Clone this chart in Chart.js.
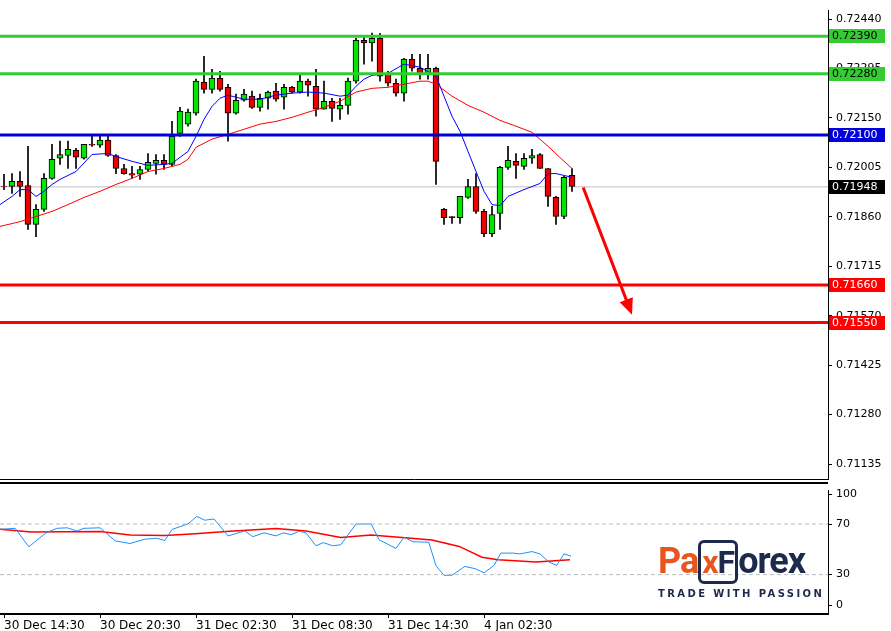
<!DOCTYPE html>
<html><head><meta charset="utf-8">
<script src="https://cdn.jsdelivr.net/npm/chart.js@4"></script>
<style>
body{margin:0;background:#fff;width:891px;height:631px;overflow:hidden;position:relative;font-family:"DejaVu Sans",sans-serif}
canvas{position:absolute;left:0}
#c1{top:0;z-index:2}
#c2{top:480px;z-index:1}
#sep{position:absolute;left:0;top:482px;width:828px;height:0;border-top:2px solid #000;z-index:3}
#logo{position:absolute;left:658px;top:541px;width:170px;white-space:nowrap;z-index:3}
#logo .m{font-family:"Roboto","DejaVu Sans",sans-serif;font-weight:700;font-size:36px;letter-spacing:-1px;line-height:40px}
#logo .p{color:#e8561f}
#logo .x{color:#e8561f;border:3px solid #1d2a4d;border-radius:6px;padding:0 1px;font-size:32px}
#logo .f{color:#1d2a4d}
#logo .t{font-family:"DejaVu Sans",sans-serif;font-weight:700;font-size:10px;letter-spacing:2.4px;color:#1d2a4d;margin-top:6px}
</style></head><body>
<canvas id="c1" width="891" height="490"></canvas>
<canvas id="c2" width="891" height="151"></canvas>
<div id="sep"></div>
<div id="logo"><div class="m"><span class="p">Pa</span><span class="x">x<span class="f">F</span></span><span class="f">orex</span></div><div class="t">TRADE WITH PASSION</div></div>
<script>
const timeLabels = ["30 Dec 14:30","30 Dec 20:30","31 Dec 02:30","31 Dec 08:30","31 Dec 14:30","4 Jan 02:30"];
const timeLabelIdx = [0,12,24,36,48,60];
const priceTicks = [0.72440,0.72295,0.72150,0.72005,0.71860,0.71715,0.71570,0.71425,0.71280,0.71135];
const openP  = [.71950,.71949,.71964,.71952,.71838,.71882,.71973,.72032,.72040,.72055,.72032,.72073,.72070,.72085,.72040,.72002,.71987,.71985,.71999,.72017,.72026,.72014,.72105,.72132,.72164,.72255,.72234,.72267,.72240,.72164,.72202,.72214,.72181,.72208,.72229,.72211,.72240,.72226,.72258,.72243,.72176,.72199,.72176,.72187,.72258,.72378,.72370,.72384,.72278,.72252,.72223,.72323,.72296,.72278,.72296,.71882,.71861,.71858,.71917,.71949,.71876,.71811,.71870,.72005,.72023,.72008,.72032,.72043,.72002,.71917,.71861,.71982];
const highP  = [.71985,.71987,.71993,.72067,.71896,.71987,.72073,.72082,.72082,.72061,.72073,.72096,.72096,.72096,.72043,.72014,.72008,.72008,.72046,.72043,.72043,.72140,.72181,.72176,.72264,.72331,.72293,.72287,.72249,.72220,.72234,.72229,.72220,.72229,.72252,.72249,.72243,.72278,.72264,.72293,.72258,.72208,.72208,.72267,.72384,.72390,.72399,.72398,.72287,.72264,.72325,.72337,.72337,.72337,.72299,.71885,.71861,.71920,.71970,.71987,.71882,.71891,.72008,.72067,.72046,.72046,.72058,.72046,.72002,.71920,.71979,.72002];
const lowP   = [.71940,.71929,.71920,.71823,.71802,.71876,.71970,.72014,.72002,.72002,.72029,.72067,.72064,.72037,.71987,.71985,.71973,.71970,.71993,.71985,.71999,.72008,.72096,.72126,.72158,.72223,.72223,.72229,.72082,.72161,.72199,.72178,.72170,.72176,.72199,.72176,.72223,.72223,.72214,.72155,.72176,.72140,.72146,.72161,.72252,.72308,.72317,.72258,.72243,.72214,.72199,.72287,.72264,.72264,.71955,.71838,.71841,.71841,.71914,.71870,.71802,.71802,.71823,.71999,.71973,.71999,.72017,.72002,.71891,.71838,.71855,.71935];
const closeP = [.71949,.71964,.71949,.71838,.71882,.71973,.72029,.72043,.72058,.72035,.72073,.72070,.72085,.72040,.72002,.71987,.71982,.71999,.72020,.72026,.72014,.72096,.72170,.72167,.72258,.72234,.72267,.72234,.72164,.72202,.72220,.72181,.72208,.72226,.72205,.72240,.72226,.72258,.72246,.72176,.72199,.72178,.72187,.72258,.72378,.72370,.72384,.72273,.72252,.72223,.72323,.72296,.72278,.72296,.72023,.71858,.71858,.71920,.71949,.71876,.71811,.71867,.72005,.72026,.72011,.72032,.72040,.72002,.71920,.71861,.71976,.71949];
const fastMaIdx = [-0.5,1,2,3,4,5,6,7,9,11,13,14,16,18,20,21,23,24,25,26,27,28,30,32,34,36,38,40,42,43,44,45,46,48,50,52,54,55,56,57,58,59,60,61,62,63,65,67,68,69,71];
const fastMa = [.71896,.71920,.71940,.71940,.71920,.71935,.71955,.71970,.71993,.72043,.72046,.72037,.72023,.72011,.72014,.72017,.72052,.72096,.72146,.72184,.72208,.72217,.72205,.72205,.72217,.72223,.72226,.72223,.72214,.72217,.72243,.72264,.72275,.72281,.72308,.72299,.72273,.72214,.72155,.72111,.72052,.71993,.71935,.71896,.71893,.71920,.71940,.71958,.71987,.71987,.71976];
const slowMaIdx = [-0.5,2,4,6,8,10,12,14,16,18,20,22,23,24,26,28,30,32,34,36,38,40,42,44,46,48,50,52,53,54,56,58,60,62,64,66,68,70,71];
const slowMa = [.71832,.71846,.71861,.71876,.71896,.71917,.71935,.71955,.71973,.71993,.72002,.72014,.72029,.72064,.72088,.72102,.72117,.72132,.72140,.72152,.72167,.72181,.72199,.72226,.72237,.72240,.72249,.72258,.72258,.72249,.72214,.72187,.72167,.72143,.72126,.72108,.72067,.72023,.72002];
const levelsGreen = [0.72390,0.72280];
const levelBlue = 0.72100;
const levelsRed = [0.71660,0.71550];
const currentPrice = 0.71948;
const arrowFrom = [72.4,0.71946], arrowTo = [78.5,0.71573];
const rsiIdx = [-0.5,1.4,3.1,5.25,6.6,7.9,9.1,10,12,13.9,15.75,17.6,19.1,20.1,21,23,24.1,25.1,26.25,28,30.1,31.1,32.5,34,34.9,35.9,36.9,37.75,39,39.9,41.1,42.1,44,45.9,46.9,49,50,51.1,53.1,54,55,56,57.6,58.9,60,61.25,62.1,63.6,64.5,66,67,68.1,69.1,70,70.9];
const rsiVals = [65.8,66.6,52,63,66.6,67,64.5,66.6,67,56.7,54.6,58,58.7,57,65.7,70.1,76,73,74,60.6,64.5,60,63,60.6,63,61.6,64.3,63,52.8,55.3,52.8,53.6,70,70,57.5,50.7,59.6,56,55.6,37,29.5,29.5,36.5,34.7,31.4,37.3,47,47,46.4,48.2,46.4,40,37.3,46.4,44.6];
const rsiMaIdx = [-0.5,3.4,12,15.75,20.1,23.9,27.75,34,37.75,42.1,45.9,49.75,53.5,56.9,59.75,61.75,66.5,70.75];
const rsiMa = [65.8,63.7,64,61.3,61,62.4,64,66.4,64.5,59.3,61.3,59.3,57.4,52.3,43.8,41.7,40,41.7];
const rsiTickPos = [5.7,30,70,93.5];
const rsiTickLabels = ["0","30","70","100"];
const rsiLevels = [30,70];

const FONT = {family:"DejaVu Sans", size:11};
const XMIN=-0.5, XMAX=103;
const pts=(xs,ys)=>xs.map((x,i)=>({x,y:ys[i]}));
const hline=(v,c,w)=>({type:'line',data:[{x:XMIN,y:v},{x:XMAX,y:v}],borderColor:c,borderWidth:w,pointRadius:0,order:0});
const idx = openP.map((_,i)=>i);

const labelBoxes = [[0.72390,'#33cc33','#000'],[0.72280,'#33cc33','#000'],[0.72100,'#0000dd','#fff'],[0.71948,'#000','#fff'],[0.71660,'#ff0000','#fff'],[0.71550,'#ff0000','#fff']];
const overlay = {id:'ov',afterDraw(ch){
  const c=ch.ctx, x=ch.scales.x, y=ch.scales.y;
  const x1=x.getPixelForValue(arrowFrom[0]), y1=y.getPixelForValue(arrowFrom[1]);
  const x2=x.getPixelForValue(arrowTo[0]), y2=y.getPixelForValue(arrowTo[1]);
  c.save(); c.strokeStyle='#ff0000'; c.fillStyle='#ff0000'; c.lineWidth=3;
  const a=Math.atan2(y2-y1,x2-x1);
  c.beginPath(); c.moveTo(x1,y1); c.lineTo(x2-10*Math.cos(a),y2-10*Math.sin(a)); c.stroke();
  c.beginPath(); c.moveTo(x2,y2);
  c.lineTo(x2-16*Math.cos(a)+7*Math.sin(a), y2-16*Math.sin(a)-7*Math.cos(a));
  c.lineTo(x2-16*Math.cos(a)-7*Math.sin(a), y2-16*Math.sin(a)+7*Math.cos(a));
  c.closePath(); c.fill();
  c.font='11px "DejaVu Sans"'; c.textBaseline='middle'; c.textAlign='left';
  labelBoxes.forEach(([v,bg,fg])=>{
    const py=Math.round(y.getPixelForValue(v));
    c.fillStyle=bg; c.fillRect(x.right+1,py-7,56,14);
    c.fillStyle=fg; c.fillText(v.toFixed(5),x.right+4,py+0.5);
  });
  c.restore();
}};

new Chart(document.getElementById('c1'),{
  type:'bar',
  data:{datasets:[
    {type:'line',data:pts(fastMaIdx,fastMa),borderColor:'#0000ff',borderWidth:1,pointRadius:0,order:0.5},
    {type:'line',data:pts(slowMaIdx,slowMa),borderColor:'#ff0000',borderWidth:1,pointRadius:0,order:0.5},
    {data:idx.map(i=>({x:i,y:[openP[i],closeP[i]]})),grouped:false,barThickness:6,borderWidth:1,borderColor:'#000',borderSkipped:false,
     backgroundColor:idx.map(i=>closeP[i]>=openP[i]?'#00e600':'#ee0000'),order:1},
    {data:idx.map(i=>({x:i,y:[lowP[i],highP[i]]})),grouped:false,barThickness:1,backgroundColor:'#000',borderWidth:0,order:2},
    hline(levelsGreen[0],'#33cc33',3),hline(levelsGreen[1],'#33cc33',3),
    hline(levelBlue,'#0000dd',3),
    hline(levelsRed[0],'#ff0000',3),hline(levelsRed[1],'#ff0000',3),
    Object.assign(hline(currentPrice,'#c0c0c0',1),{order:3})
  ]},
  options:{responsive:false,animation:false,devicePixelRatio:1,
    layout:{padding:{top:0,bottom:0,left:0,right:0}},
    plugins:{legend:{display:false},tooltip:{enabled:false}},
    scales:{
      x:{type:'linear',offset:false,min:XMIN,max:XMAX,ticks:{display:false},grid:{display:false},border:{display:true,color:'#000',width:1},afterFit(s){s.height=2;}},
      y:{position:'right',min:0.71090,max:0.72465,
        afterBuildTicks(s){s.ticks=priceTicks.map(v=>({value:v}));},
        ticks:{font:FONT,color:'#000',padding:4,callback:v=>v.toFixed(5)},
        grid:{drawOnChartArea:false,tickLength:4,color:'#000'},border:{color:'#000'},
        afterFit(s){s.width=63;}}
    }},
  plugins:[overlay]
});

new Chart(document.getElementById('c2'),{
  type:'line',
  data:{datasets:[
    {data:[{x:XMIN,y:rsiLevels[0]},{x:XMAX,y:rsiLevels[0]}],borderColor:'#bbbbbb',borderWidth:1,borderDash:[4,3],pointRadius:0},
    {data:[{x:XMIN,y:rsiLevels[1]},{x:XMAX,y:rsiLevels[1]}],borderColor:'#bbbbbb',borderWidth:1,borderDash:[4,3],pointRadius:0},
    {data:pts(rsiIdx,rsiVals),borderColor:'#1e90ff',borderWidth:1,pointRadius:0},
    {data:pts(rsiMaIdx,rsiMa),borderColor:'#ff0000',borderWidth:1.5,pointRadius:0}
  ]},
  options:{responsive:false,animation:false,devicePixelRatio:1,
    layout:{padding:{top:0,bottom:0,left:0,right:0}},
    plugins:{legend:{display:false},tooltip:{enabled:false}},
    scales:{
      x:{type:'linear',min:XMIN,max:XMAX,
        afterBuildTicks(s){s.ticks=timeLabelIdx.map(v=>({value:v}));},
        ticks:{font:{family:"DejaVu Sans",size:12},color:'#000',align:'start',padding:1,maxRotation:0,autoSkip:false,
          callback:(v)=>timeLabels[timeLabelIdx.indexOf(v)]},
        grid:{drawOnChartArea:false,tickLength:4,color:'#000'},border:{color:'#000',width:2},
        afterFit(s){s.height=17;}},
      y:{position:'right',min:-1.1,max:96.4,
        afterBuildTicks(s){s.ticks=rsiTickPos.map(v=>({value:v}));},
        ticks:{font:FONT,color:'#000',padding:4,callback:(v)=>rsiTickLabels[rsiTickPos.indexOf(v)]},
        grid:{drawOnChartArea:false,tickLength:4,color:'#000'},
        border:{color:'#000'},
        afterFit(s){s.width=63;}}
    }}
});
</script></body></html>
